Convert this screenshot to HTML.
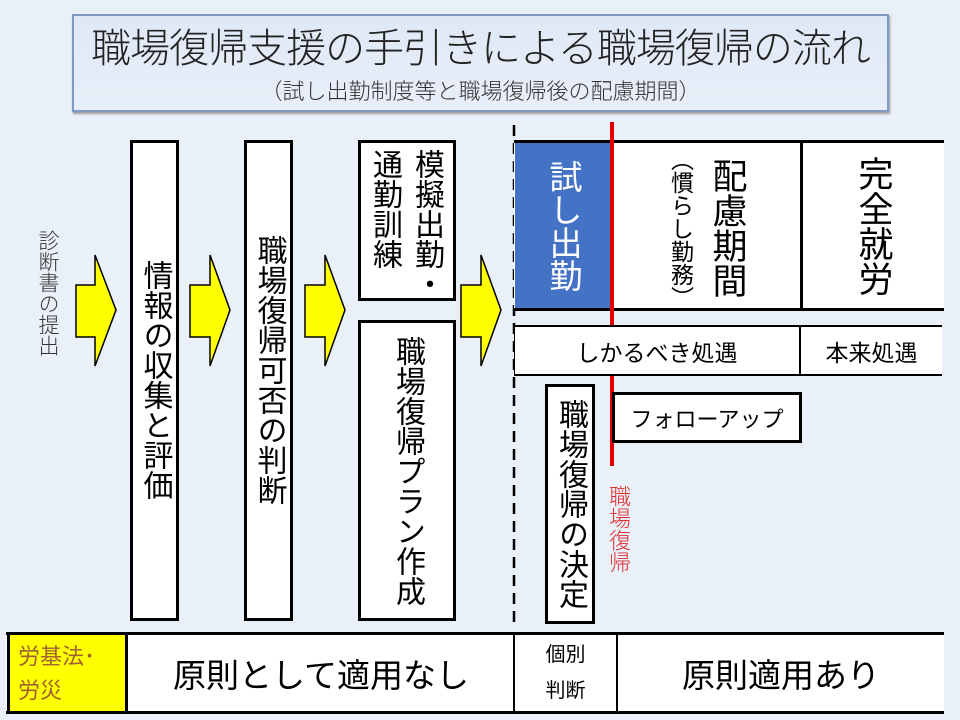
<!DOCTYPE html>
<html><head><meta charset="utf-8"><style>
*{margin:0;padding:0;box-sizing:border-box}
body{width:960px;height:720px;background:#eaf0f8;position:relative;overflow:hidden;font-family:"Liberation Sans","Noto Sans CJK JP",sans-serif;color:#000}
.a{position:absolute}
.v{writing-mode:vertical-rl;text-orientation:upright;white-space:nowrap}
.box{position:absolute;background:#fff;border:3px solid #000}
.c{display:flex;align-items:center;justify-content:center}
</style></head><body>
<div class="a" style="left:72px;top:14px;width:817px;height:98px;background:linear-gradient(#dfe8f6,#e9eff9);border:2px solid #7f99c4;box-shadow:1px 2px 2px #999"></div>
<div class="a" style="left:72px;top:16px;width:817px;text-align:center;font-size:40px;font-weight:300;color:#222;letter-spacing:-1px">職場復帰支援の手引きによる職場復帰の流れ</div>
<div class="a" style="left:72px;top:74px;width:817px;text-align:center;font-size:22px;font-weight:300;color:#333">（試し出勤制度等と職場復帰後の配慮期間）</div>

<div class="a v" style="left:34px;top:230px;font-size:21px;color:#333;font-weight:300;line-height:26px">診断書の提出</div>

<svg class="a" style="left:0;top:0" width="960" height="720">
<g fill="#ffff00" stroke="#000" stroke-width="1.5">
<polygon points="76,285 95,285 95,255 116,310 95,366 95,337 76,337"/>
<polygon points="190,285 210,285 210,255 230,310 210,366 210,337 190,337"/>
<polygon points="305,285 325,285 325,255 345,310 325,366 325,337 305,337"/>
<polygon points="461,285 481,285 481,255 501,310 481,366 481,337 461,337"/>
</g>
<line x1="514" y1="125" x2="514" y2="625" stroke="#000" stroke-width="2.5" stroke-dasharray="11,7"/>
</svg>

<div class="box c" style="left:130px;top:140px;width:49px;height:481px"><div class="v" style="font-size:30px;line-height:30px;margin-top:-2px">情報の収集と評価</div></div>
<div class="box c" style="left:244px;top:140px;width:49px;height:481px;align-items:flex-start"><div class="v" style="font-size:30px;line-height:30px;margin-top:92px">職場復帰可否の判断</div></div>
<div class="box" style="left:358px;top:140px;width:98px;height:161px"><div class="v" style="position:absolute;right:6px;top:6px;font-size:30px;line-height:42px">模擬出勤・<br>通勤訓練</div></div>
<div class="box c" style="left:358px;top:320px;width:98px;height:301px"><div class="v" style="font-size:30px;line-height:30px">職場復帰プラン作成</div></div>

<div class="a" style="left:514px;top:140px;width:430px;height:171px;background:#fff;border-top:3px solid #000;border-bottom:3px solid #000"></div>
<div class="a c" style="left:515px;top:143px;width:97px;height:165px;background:#4472c4"><div class="v" style="color:#fff;font-size:33px;line-height:33px">試し出勤</div></div>
<div class="a" style="left:800px;top:140px;width:3px;height:171px;background:#000"></div>
<div class="a c" style="left:612px;top:143px;width:188px;height:165px"><div class="v" style="font-size:23px;line-height:26px;margin-right:16px;margin-top:6px">（慣らし勤務）</div><div class="v" style="font-size:35px;line-height:35px;margin-top:4px">配慮期間</div></div>
<div class="a c" style="left:803px;top:143px;width:140px;height:165px"><div class="v" style="font-size:35px;line-height:35px">完全就労</div></div>

<div class="a" style="left:610px;top:122px;width:4px;height:344px;background:#e00000"></div>

<div class="a" style="left:514px;top:325px;width:428px;height:51px;background:#fff;border-top:2px solid #000;border-bottom:2px solid #000;border-left:1px solid #000"></div>
<div class="a" style="left:799px;top:325px;width:2px;height:51px;background:#000"></div>
<div class="a c" style="left:515px;top:327px;width:284px;height:47px;font-size:23px">しかるべき処遇</div>
<div class="a c" style="left:801px;top:327px;width:141px;height:47px;font-size:23px">本来処遇</div>

<div class="box c" style="left:545px;top:384px;width:50px;height:240px"><div class="v" style="font-size:30px;line-height:30px">職場復帰の決定</div></div>
<div class="box c" style="left:612px;top:392px;width:190px;height:51px;font-size:22px">フォローアップ</div>
<div class="a v" style="left:605px;top:485px;font-size:22px;line-height:26px;color:#e03030;font-weight:300">職場復帰</div>

<div class="a" style="left:6px;top:632px;width:938px;height:82px;background:#fff;border-top:3px solid #000;border-bottom:3px solid #000"></div>
<div class="a" style="left:7px;top:632px;width:121px;height:82px;background:#ffff00;border:3px solid #000;color:#a06030;font-size:22px;line-height:34px;padding:5px 0 0 8px">労基法･<br>労災</div>
<div class="a c" style="left:128px;top:635px;width:386px;height:76px;font-size:33px">原則として適用なし</div>
<div class="a" style="left:513px;top:635px;width:2px;height:76px;background:#000"></div>
<div class="a" style="left:616px;top:635px;width:2px;height:76px;background:#000"></div>
<div class="a c" style="left:515px;top:635px;width:101px;height:76px;font-size:20px;line-height:36px;text-align:center">個別<br>判断</div>
<div class="a c" style="left:618px;top:635px;width:326px;height:76px;font-size:33px">原則適用あり</div>
</body></html>
